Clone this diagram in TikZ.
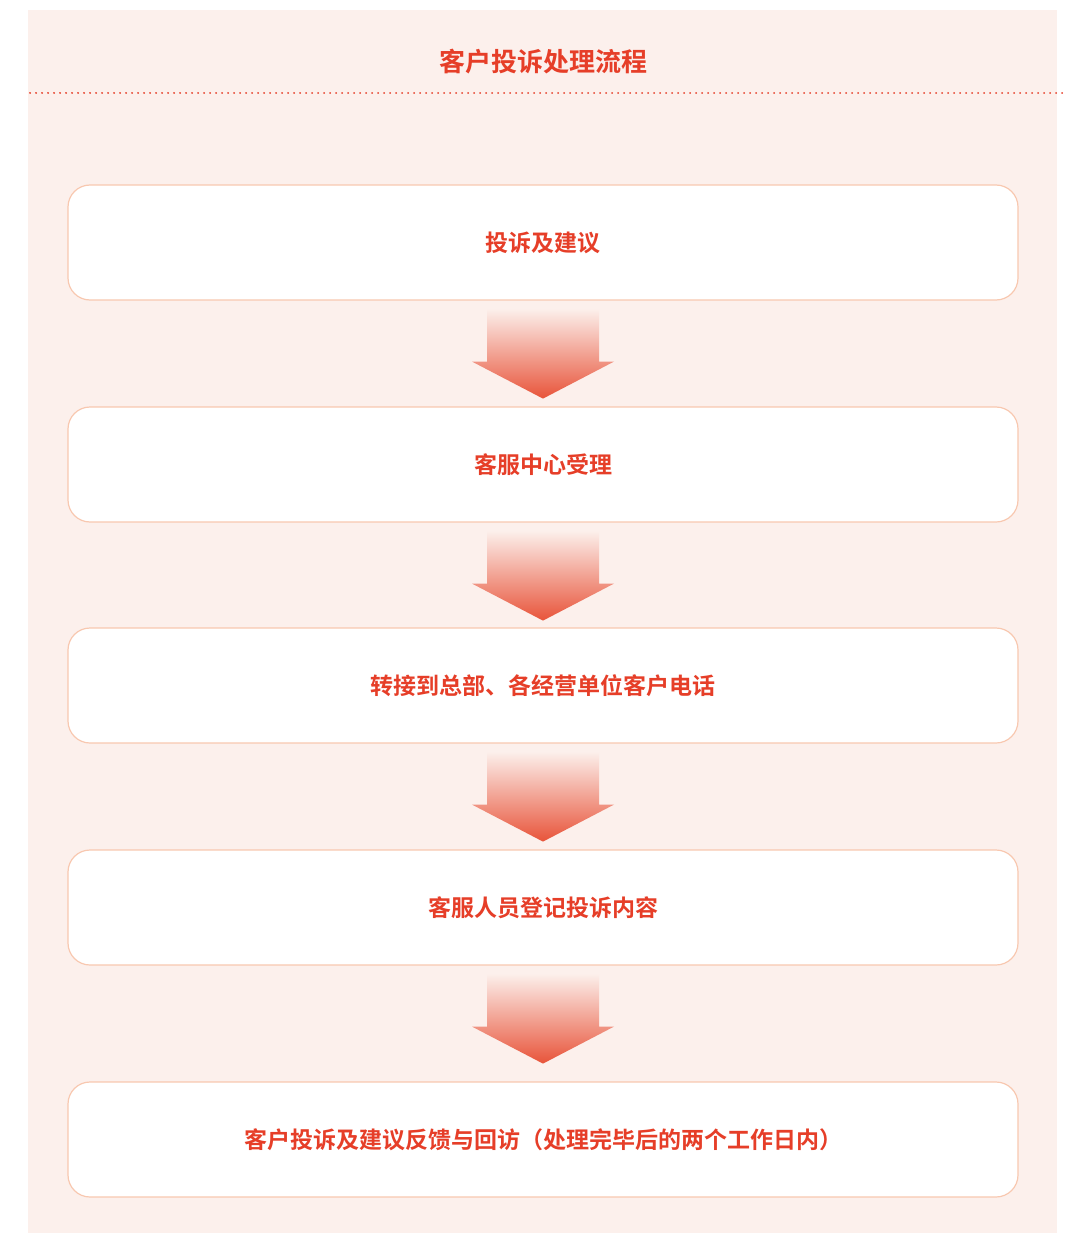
\documentclass[tikz,border=0pt]{standalone}
\usepackage{fontspec}
\newfontfamily\cjk{Noto Sans CJK SC}[BoldFont={Noto Sans CJK SC Bold}]
\usetikzlibrary{calc}
\definecolor{panelbg}{RGB}{252,240,236}
\definecolor{boxline}{RGB}{248,200,176}
\definecolor{txtred}{RGB}{230,62,40}
\definecolor{arrowend}{RGB}{232,84,58}
\tikzset{
  stepbox/.style={draw=boxline, line width=1.2pt, fill=white, rounded corners=22pt,
    minimum width=950pt, minimum height=115pt, inner sep=0pt,
    font=\cjk\bfseries\fontsize{23pt}{27pt}\selectfont, text=txtred},
  flowarrow/.style={top color=panelbg, bottom color=arrowend, draw=none},
}
\newcommand{\flowarr}[1]{%
  \path[flowarrow] ($(#1.south)+(-56,8)$) -- ($(#1.south)+(56,8)$) --
    ($(#1.south)+(56,61)$) -- ($(#1.south)+(71,61)$) -- ($(#1.south)+(0,98)$) --
    ($(#1.south)+(-71,61)$) -- ($(#1.south)+(-56,61)$) -- cycle;}
\begin{document}
\begin{tikzpicture}[x=1pt,y=-1pt]
\useasboundingbox (0,0) rectangle (1074,1233);
\fill[panelbg] (28,10) rectangle (1057,1233);
\node[font=\cjk\bfseries\fontsize{26pt}{31pt}\selectfont, text=txtred] (title) at (543,62) {客户投诉处理流程};
\coordinate (dl) at (30,93);
\coordinate (dr) at (1062,93);
\draw[txtred, line width=2pt, dash pattern=on 0.1pt off 5.9pt, line cap=round] (dl) -- (dr);
\node[stepbox] (b1) at (543,242.5) {投诉及建议};
\node[stepbox] (b2) at (543,464.5) {客服中心受理};
\node[stepbox] (b3) at (543,685.5) {转接到总部、各经营单位客户电话};
\node[stepbox] (b4) at (543,907.5) {客服人员登记投诉内容};
\node[stepbox] (b5) at (543,1139.5) {客户投诉及建议反馈与回访（处理完毕后的两个工作日内）};
\flowarr{b1}
\flowarr{b2}
\flowarr{b3}
\flowarr{b4}
\end{tikzpicture}
\end{document}
